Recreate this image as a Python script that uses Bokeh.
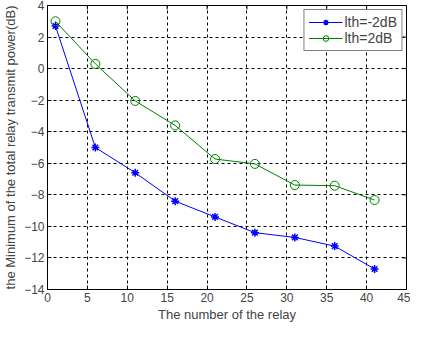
import math
from bokeh.plotting import figure
from bokeh.models import Range1d, FixedTicker, Legend, LegendItem
from bokeh.embed import file_html
from bokeh.resources import INLINE

relays = [1, 6, 11, 16, 21, 26, 31, 36, 41]
p_lth_m2 = [2.7, -5.0, -6.6, -8.4, -9.4, -10.4, -10.7, -11.25, -12.7]
p_lth_2 = [3.0, 0.3, -2.05, -3.6, -5.73, -6.04, -7.38, -7.42, -8.33]
x_ticks = [0, 5, 10, 15, 20, 25, 30, 35, 40, 45]
y_ticks = [-14, -12, -10, -8, -6, -4, -2, 0, 2, 4]

p = figure(width=410, height=324, output_backend="svg", toolbar_location=None,
           x_range=Range1d(x_ticks[0], x_ticks[-1]), y_range=Range1d(y_ticks[0], y_ticks[-1]),
           min_border_left=44, min_border_right=4, min_border_top=5, min_border_bottom=30)
p.background_fill_color = "white"
p.border_fill_color = "white"
p.outline_line_color = "black"
p.outline_line_width = 1

font = "Liberation Sans"
for ax in (p.xaxis[0], p.yaxis[0]):
    ax.major_tick_in = 4
    ax.major_tick_out = 0
    ax.minor_tick_line_color = None
    ax.major_label_text_font = font
    ax.major_label_text_font_size = "12px"
    ax.axis_label_text_font = font
    ax.axis_label_text_font_size = "13px"
    ax.axis_label_text_font_style = "normal"
    ax.axis_line_color = "black"
    ax.major_label_standoff = 3
p.xaxis.ticker = FixedTicker(ticks=x_ticks)
p.yaxis.ticker = FixedTicker(ticks=y_ticks)
p.xaxis.axis_label = "The number of the relay"
p.yaxis.axis_label = "the Minimum of the total relay transmit power(dB)"
p.xaxis.axis_label_standoff = 2
p.yaxis.axis_label_standoff = 3

p.grid.grid_line_color = "black"
p.grid.grid_line_dash = "3 3"
p.grid.grid_line_width = 1
p.xgrid.ticker = FixedTicker(ticks=x_ticks)
p.ygrid.ticker = FixedTicker(ticks=y_ticks)

# inward tick marks on the top and right edges (box on), clipped to the frame
p.scatter(x_ticks, [y_ticks[-1]] * len(x_ticks), marker="dash", angle=math.pi / 2,
          size=8, line_color="black", line_width=1)
p.scatter([x_ticks[-1]] * len(y_ticks), y_ticks, marker="dash", angle=0,
          size=8, line_color="black", line_width=1)

l1 = p.line(relays, p_lth_m2, line_color="#0000ff", line_width=1)
m1 = p.scatter(relays, p_lth_m2, marker="asterisk", size=8, line_color="#0000ff", line_width=1.5)
l2 = p.line(relays, p_lth_2, line_color="#008000", line_width=1)
m2 = p.scatter(relays, p_lth_2, marker="circle", size=9, line_color="#008000",
               fill_color=None, line_width=1)

legend = Legend(items=[LegendItem(label="lth=-2dB", renderers=[l1, m1]),
                       LegendItem(label="lth=2dB", renderers=[l2, m2])],
                location="top_right")
legend.border_line_color = "black"
legend.border_line_width = 1
legend.label_text_font = font
legend.label_text_font_size = "14px"
legend.glyph_width = 34
legend.glyph_height = 14
legend.spacing = 0
legend.padding = 4
legend.margin = 4
legend.label_height = 14
legend.label_standoff = 2
p.add_layout(legend)

open("out.html", "w").write(file_html(p, INLINE))
